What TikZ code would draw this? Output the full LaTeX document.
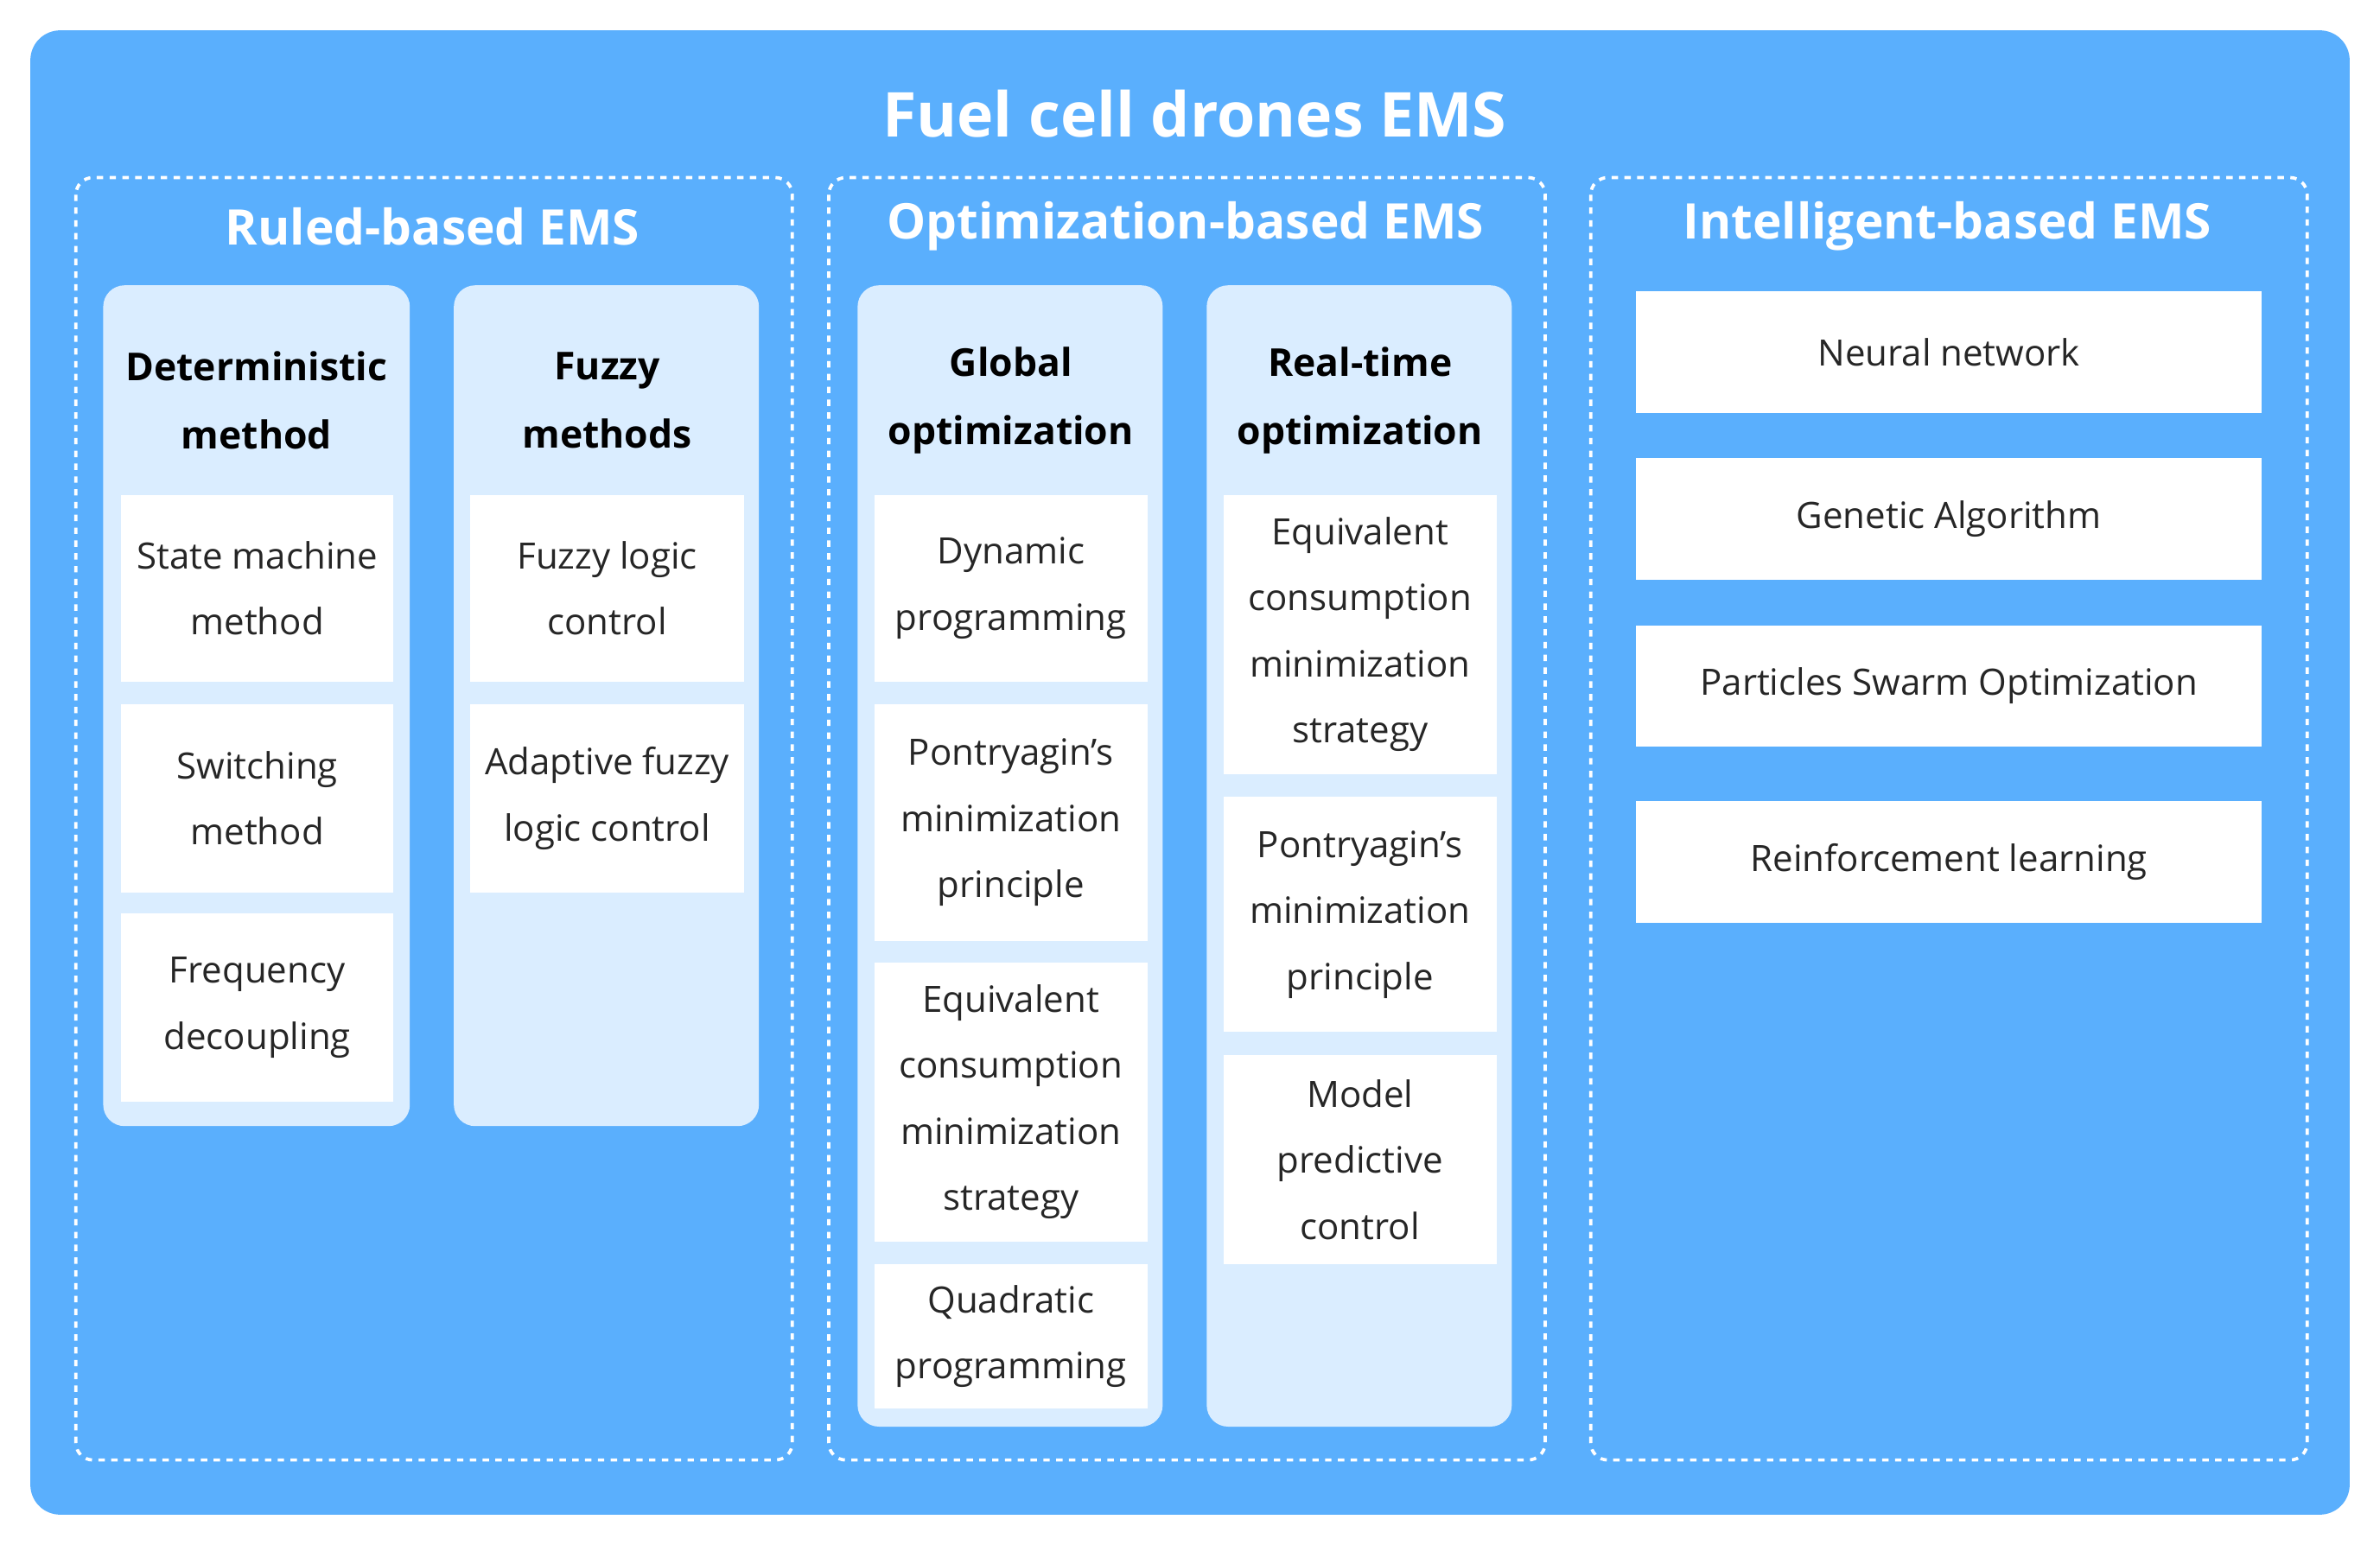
\documentclass[tikz,border=0pt]{standalone}
\usepackage{fontspec}
\setmainfont{Open Sans}
\definecolor{bgblue}{HTML}{5AAFFD}
\definecolor{colblue}{HTML}{DAEDFF}
\definecolor{txt}{HTML}{262626}
\begin{document}
\begin{tikzpicture}[x=0.025cm,y=-0.025cm,
 col/.style={fill=colblue,draw=none,rounded corners=10pt},
 dbox/.style={draw=white,dashed,line width=1.5pt,rounded corners=8pt},
 item/.style={fill=white,draw=none,align=center,text=txt,font=\fontsize{17}{31}\selectfont},
 head/.style={align=center,text=black,font=\bfseries\fontsize{18}{32}\selectfont},
 sec/.style={text=white,font=\bfseries\fontsize{23}{28}\selectfont}]
\useasboundingbox (0,0) rectangle (1568,1018);
\fill[bgblue,rounded corners=14pt] (20,20) rectangle (1548,998);
\node[text=white,font=\bfseries\fontsize{29}{34}\selectfont] (title) at (787,75) {Fuel cell drones EMS};
\draw[dbox] (50,117) rectangle (522,962);
\draw[dbox] (546,117) rectangle (1018,962);
\draw[dbox] (1048,117) rectangle (1520,962);
\node[sec] (s1) at (285,149) {Ruled-based EMS};
\node[sec] (s2) at (781,149) {Optimization-based EMS};
\node[sec] (s3) at (1283,149) {Intelligent-based EMS};
\fill[col] (68,188) rectangle (270,742);
\fill[col] (299,188) rectangle (500,742);
\fill[col] (565,188) rectangle (766,940);
\fill[col] (795,188) rectangle (996,940);
\node[head] (h1) at (169,264) {Deterministic\\method};
\node[head] (h2) at (400,264) {Fuzzy\\methods};
\node[head] (h3) at (666,264) {Global\\optimization};
\node[head] (h4) at (896,264) {Real-time\\optimization};
% col1
\node[item,minimum width=179\pgflinewidth*0+4.475cm,minimum height=3.075cm] (a1) at (169.5,387.5) {State machine\\method};
\node[item,minimum width=4.475cm,minimum height=3.1cm] (a2) at (169.5,526) {Switching\\method};
\node[item,minimum width=4.475cm,minimum height=3.1cm] (a3) at (169.5,664) {Frequency\\decoupling};
% col2
\node[item,minimum width=4.5cm,minimum height=3.075cm] (b1) at (400,387.5) {Fuzzy logic\\control};
\node[item,minimum width=4.5cm,minimum height=3.1cm] (b2) at (400,526) {Adaptive fuzzy\\logic control};
% col3
\node[item,minimum width=4.5cm,minimum height=3.075cm] (c1) at (666,387.5) {Dynamic\\programming};
\node[item,minimum width=4.5cm,minimum height=3.9cm] (c2) at (666,542) {Pontryagin’s\\minimization\\principle};
\node[item,minimum width=4.5cm,minimum height=4.6cm] (c3) at (666,726) {Equivalent\\consumption\\minimization\\strategy};
\node[item,minimum width=4.5cm,minimum height=2.375cm] (c4) at (666,880.5) {Quadratic\\programming};
% col4
\node[item,minimum width=4.5cm,minimum height=4.6cm] (d1) at (896,418) {Equivalent\\consumption\\minimization\\strategy};
\node[item,minimum width=4.5cm,minimum height=3.875cm] (d2) at (896,602.5) {Pontryagin’s\\minimization\\principle};
\node[item,minimum width=4.5cm,minimum height=3.45cm] (d3) at (896,764) {Model\\predictive\\control};
% intelligent
\node[item,minimum width=10.3cm,minimum height=2cm] (i1) at (1284,232) {Neural network};
\node[item,minimum width=10.3cm,minimum height=2cm] (i2) at (1284,342) {Genetic Algorithm};
\node[item,minimum width=10.3cm,minimum height=2cm] (i3) at (1284,452) {Particles Swarm Optimization};
\node[item,minimum width=10.3cm,minimum height=2cm] (i4) at (1284,568) {Reinforcement learning};
\end{tikzpicture}
\end{document}
